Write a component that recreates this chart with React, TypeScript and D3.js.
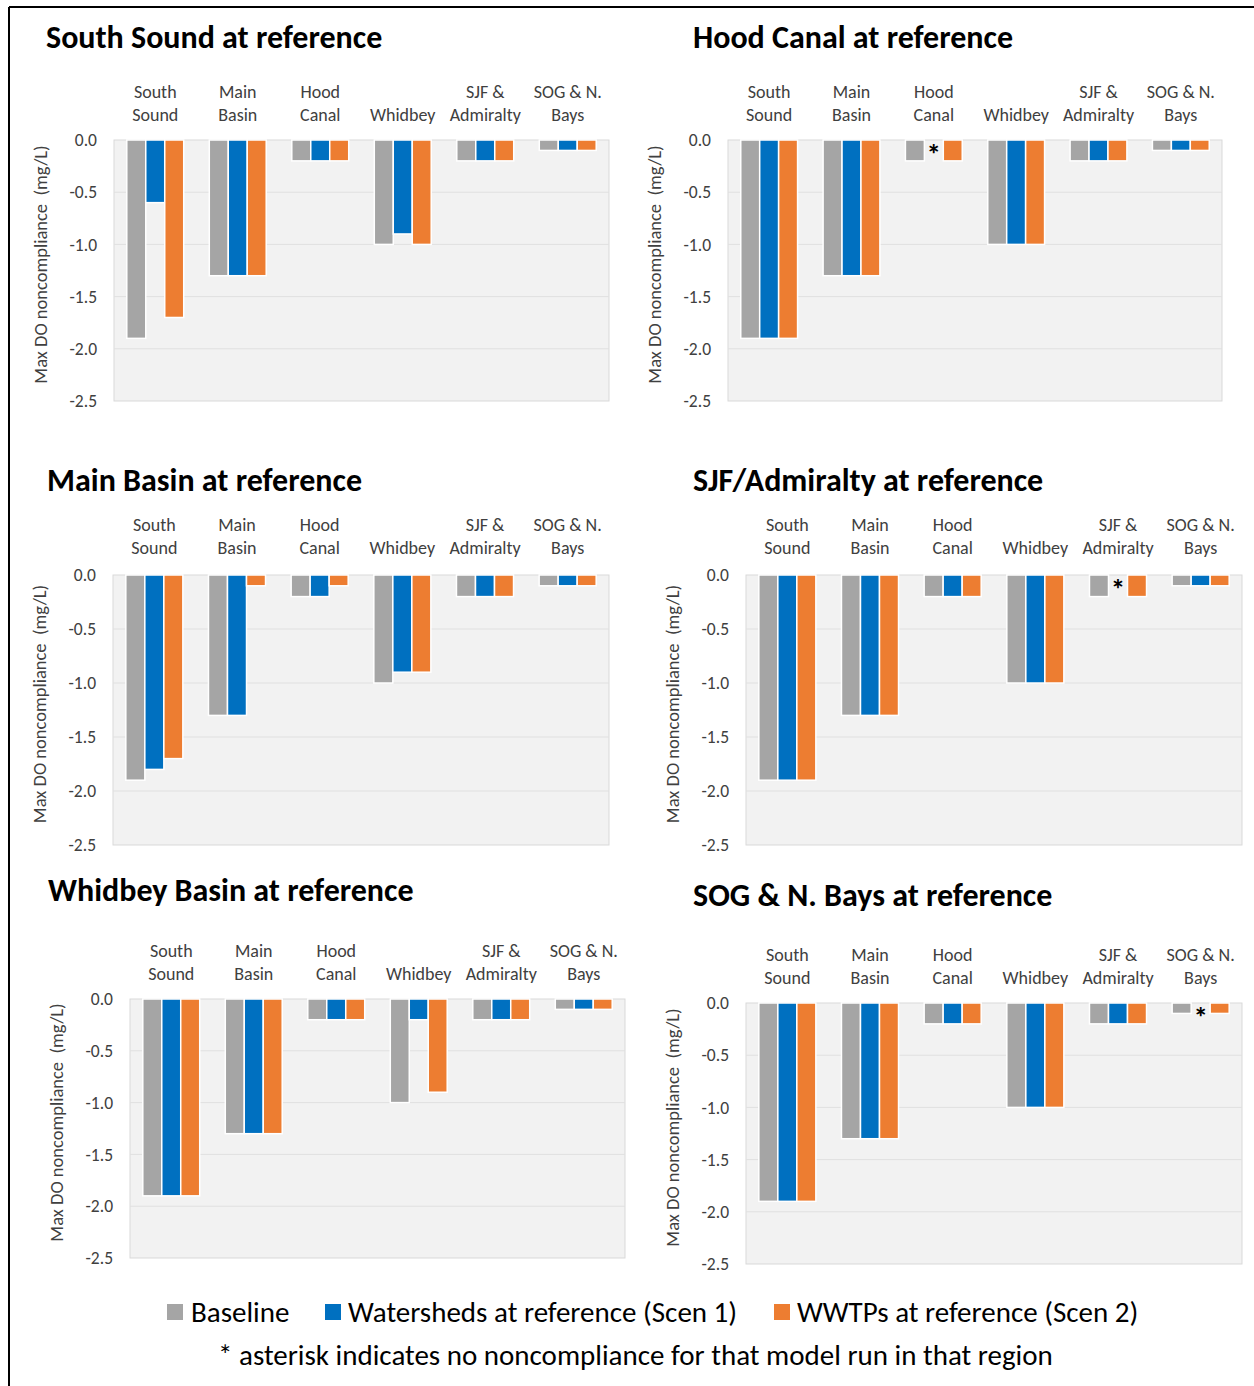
import React from "react";
import * as d3 from "d3";

const categories = [
  ["South", "Sound"],
  ["Main", "Basin"],
  ["Hood", "Canal"],
  ["", "Whidbey"],
  ["SJF &", "Admiralty"],
  ["SOG & N.", "Bays"],
];
const seriesNames = ["Baseline", "Watersheds at reference (Scen 1)", "WWTPs at reference (Scen 2)"];
const yTicks = [0, -0.5, -1.0, -1.5, -2.0, -2.5];
const panelTitles = [
  "South Sound at reference",
  "Hood Canal at reference",
  "Main Basin at reference",
  "SJF/Admiralty at reference",
  "Whidbey Basin at reference",
  "SOG & N. Bays at reference",
];

// null = no noncompliance (asterisk)
const southSoundBaseline = [-1.9, -1.3, -0.2, -1.0, -0.2, -0.1];
const southSoundScen1 = [-0.6, -1.3, -0.2, -0.9, -0.2, -0.1];
const southSoundScen2 = [-1.7, -1.3, -0.2, -1.0, -0.2, -0.1];

const hoodCanalBaseline = [-1.9, -1.3, -0.2, -1.0, -0.2, -0.1];
const hoodCanalScen1 = [-1.9, -1.3, null, -1.0, -0.2, -0.1];
const hoodCanalScen2 = [-1.9, -1.3, -0.2, -1.0, -0.2, -0.1];

const mainBasinBaseline = [-1.9, -1.3, -0.2, -1.0, -0.2, -0.1];
const mainBasinScen1 = [-1.8, -1.3, -0.2, -0.9, -0.2, -0.1];
const mainBasinScen2 = [-1.7, -0.1, -0.1, -0.9, -0.2, -0.1];

const sjfBaseline = [-1.9, -1.3, -0.2, -1.0, -0.2, -0.1];
const sjfScen1 = [-1.9, -1.3, -0.2, -1.0, null, -0.1];
const sjfScen2 = [-1.9, -1.3, -0.2, -1.0, -0.2, -0.1];

const whidbeyBaseline = [-1.9, -1.3, -0.2, -1.0, -0.2, -0.1];
const whidbeyScen1 = [-1.9, -1.3, -0.2, -0.2, -0.2, -0.1];
const whidbeyScen2 = [-1.9, -1.3, -0.2, -0.9, -0.2, -0.1];

const sogBaseline = [-1.9, -1.3, -0.2, -1.0, -0.2, -0.1];
const sogScen1 = [-1.9, -1.3, -0.2, -1.0, -0.2, null];
const sogScen2 = [-1.9, -1.3, -0.2, -1.0, -0.2, -0.1];

const panelData = [
  [southSoundBaseline, southSoundScen1, southSoundScen2],
  [hoodCanalBaseline, hoodCanalScen1, hoodCanalScen2],
  [mainBasinBaseline, mainBasinScen1, mainBasinScen2],
  [sjfBaseline, sjfScen1, sjfScen2],
  [whidbeyBaseline, whidbeyScen1, whidbeyScen2],
  [sogBaseline, sogScen1, sogScen2],
];

// layout (not data)
const layouts = [
  { tx: 46, ty: 48, left: 114, right: 609, top: 140, bottom: 401, catY: 98 },
  { tx: 693, ty: 48, left: 728, right: 1222, top: 140, bottom: 401, catY: 98 },
  { tx: 47, ty: 491, left: 113, right: 609, top: 575, bottom: 845, catY: 531 },
  { tx: 693, ty: 491, left: 746, right: 1242, top: 575, bottom: 845, catY: 531 },
  { tx: 48, ty: 901, left: 130, right: 625, top: 999, bottom: 1258, catY: 957 },
  { tx: 693, ty: 906, left: 746, right: 1242, top: 1003, bottom: 1264, catY: 961 },
];

const colors = ["#a5a5a5", "#0070c0", "#ed7d31"];
const FONT = "Carlito, Calibri, Lato, 'Open Sans', sans-serif";

function Panel({ title, data, L }: any) {
  const idx = d3.range(categories.length);
  const x0 = d3
    .scaleBand<number>()
    .domain(idx)
    .range([L.left, L.right])
    .paddingInner(0.31)
    .paddingOuter(0.155);
  const x1 = d3.scaleBand<number>().domain([0, 1, 2]).range([0, x0.bandwidth()]);
  const y = d3.scaleLinear().domain([0, -2.5]).range([L.top, L.bottom]);
  const midY = (L.top + L.bottom) / 2;
  return (
    <g>
      <text x={L.tx} y={L.ty} fontSize={32} fontWeight="bold" fill="#000" fontFamily={FONT}>
        {title}
      </text>
      <rect
        x={L.left}
        y={L.top}
        width={L.right - L.left}
        height={L.bottom - L.top}
        fill="#f2f2f2"
        stroke="#d9d9d9"
        strokeWidth={1}
      />
      {yTicks.slice(1, -1).map((t) => (
        <line key={t} x1={L.left} x2={L.right} y1={y(t)} y2={y(t)} stroke="#e0e0e0" strokeWidth={1} />
      ))}
      {yTicks.map((t) => (
        <text
          key={"l" + t}
          x={L.left - 17}
          y={y(t)}
          dy="0.35em"
          textAnchor="end"
          fontSize={17.5}
          fill="#404040"
          fontFamily={FONT}
        >
          {t.toFixed(1)}
        </text>
      ))}
      <text
        transform={`translate(${L.left - 67},${midY - 6}) rotate(-90)`}
        textAnchor="middle"
        fontSize={18.5}
        fill="#404040"
        fontFamily={FONT}
        style={{ whiteSpace: "pre" }}
      >
        {"Max DO noncompliance  (mg/L)"}
      </text>
      {categories.map((c, i) => {
        const cx = (x0(i) as number) + x0.bandwidth() / 2;
        return (
          <g key={"c" + i} fontFamily={FONT} fontSize={18} fill="#404040" textAnchor="middle">
            <text x={cx} y={L.catY}>{c[0]}</text>
            <text x={cx} y={L.catY + 23}>{c[1]}</text>
          </g>
        );
      })}
      {data.map((series: (number | null)[], s: number) =>
        series.map((v, i) => {
          const bx = (x0(i) as number) + (x1(s) as number);
          if (v === null) {
            return (
              <text
                key={`a${s}-${i}`}
                x={bx + x1.bandwidth() / 2}
                y={y(0) + 24}
                textAnchor="middle"
                fontSize={29}
                fontWeight="bold"
                fill="#000"
                fontFamily={FONT}
              >
                *
              </text>
            );
          }
          return (
            <rect
              key={`b${s}-${i}`}
              x={bx}
              y={y(0)}
              width={x1.bandwidth()}
              height={y(v) - y(0)}
              fill={colors[s]}
              stroke="#ffffff"
              strokeWidth={1.5}
            />
          );
        })
      )}
    </g>
  );
}

export default function App() {
  const legendItems = [
    { sx: 167, tx: 191 },
    { sx: 325, tx: 348 },
    { sx: 774, tx: 797 },
  ];
  return (
    <svg
      width={1254}
      height={1386}
      style={{ position: "absolute", left: 0, top: 0, background: "#fff" }}
    >
      <rect x={0} y={0} width={1254} height={1386} fill="#fff" />
      <line x1={9} x2={1254} y1={7} y2={7} stroke="#000" strokeWidth={2} />
      <line x1={9} x2={9} y1={7} y2={1386} stroke="#000" strokeWidth={2} />
      {panelTitles.map((t, i) => (
        <Panel key={i} title={t} data={panelData[i]} L={layouts[i]} />
      ))}
      {seriesNames.map((n, i) => (
        <g key={n}>
          <rect x={legendItems[i].sx} y={1304} width={16} height={16} fill={colors[i]} />
          <text x={legendItems[i].tx} y={1322} fontSize={29} fill="#000" fontFamily={FONT}>
            {n}
          </text>
        </g>
      ))}
      <text x={218} y={1365} fontSize={29} fill="#000" fontFamily={FONT}>
        * asterisk indicates no noncompliance for that model run in that region
      </text>
    </svg>
  );
}
